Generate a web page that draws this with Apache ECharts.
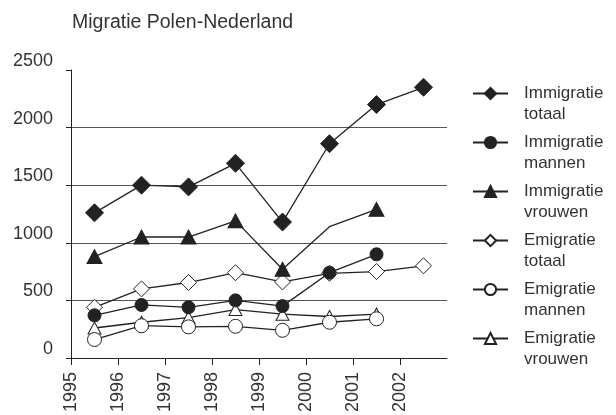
<!DOCTYPE html>
<html>
<head>
<meta charset="utf-8">
<script src="https://cdn.jsdelivr.net/npm/echarts@6/dist/echarts.min.js"></script>
<style>html,body{margin:0;padding:0;background:#fff}#c{width:616px;height:415px}</style>
</head>
<body>
<div id="c"></div>
<script>
const years = ['1995','1996','1997','1998','1999','2000','2001','2002'];
const yTicks = [0, 500, 1000, 1500, 2000, 2500];
const immigTotaal  = [1260, 1500, 1485, 1690, 1180, 1860, 2200, 2350];
const immigMannen  = [370, 460, 440, 500, 450, 740, 900];
const immigVrouwen = [880, 1050, 1050, 1190, 770, 1140, 1290];
const emigTotaal   = [440, 600, 655, 740, 660, 735, 750, 800];
const emigMannen   = [160, 280, 270, 275, 240, 310, 340];
const emigVrouwen  = [260, 310, 350, 420, 380, 360, 380];
const hiddenMarkers = {immigVrouwen: [5]};

const FONT = 'Liberation Sans';
const INK = '#222';
const TXT = '#333';

function pts(arr, hide) {
  return arr.map((v, i) => {
    const item = {value: [i + 0.5, v]};
    if (hide && hide.indexOf(i) >= 0) item.symbol = 'none';
    return item;
  });
}
function mk(name, arr, symbol, size, filled, z, hide) {
  return {
    name, type: 'line', data: pts(arr, hide), z,
    symbol, symbolSize: size, showSymbol: true,
    lineStyle: {color: INK, width: 1.3},
    itemStyle: {color: filled ? INK : '#fff', borderColor: INK, borderWidth: 1},
    animation: false
  };
}

const chart = echarts.init(document.getElementById('c'), null, {renderer: 'canvas'});
chart.setOption({
  animation: false,
  title: {
    text: 'Migratie Polen-Nederland', left: 67, top: 8,
    textStyle: {fontFamily: FONT, fontSize: 19.5, fontWeight: 'normal', color: TXT}
  },
  grid: {left: 71, right: 169, top: 70, bottom: 57},
  xAxis: {
    type: 'value', min: 0, max: years.length,
    axisLine: {show: true, lineStyle: {color: INK, width: 1}},
    axisTick: {show: true, length: 7, lineStyle: {color: INK}, customValues: years.map((y, i) => i)},
    axisLabel: {
      customValues: years.map((y, i) => i),
      formatter: v => years[v], rotate: 90, margin: 14,
      fontFamily: FONT, fontSize: 18, color: TXT
    },
    splitLine: {show: false}
  },
  yAxis: {
    type: 'value', min: 0, max: 2500, interval: 500,
    axisLine: {show: true, lineStyle: {color: INK, width: 1}},
    axisTick: {show: true, length: 5, lineStyle: {color: INK}},
    axisLabel: {margin: 18, verticalAlign: 'bottom', fontFamily: FONT, fontSize: 18, color: TXT,
      formatter: v => String(v)},
    splitLine: {show: true, lineStyle: {color: yTicks.map(v => v === 2500 ? 'rgba(0,0,0,0)' : '#555'), width: 1}}
  },
  legend: {
    orient: 'vertical', left: 467, top: 57, itemGap: -14, padding: 5,
    itemWidth: 35, itemHeight: 14,
    textStyle: {fontFamily: FONT, fontSize: 17, color: TXT, lineHeight: 21, padding: [0, 0, 0, 11]},
    formatter: n => '\n' + n.replace(' ', '\n'),
    selectedMode: false
  },
  series: [
    mk('Immigratie totaal', immigTotaal, 'diamond', [18, 18], true, 10),
    mk('Immigratie mannen', immigMannen, 'circle', 13, true, 9),
    mk('Immigratie vrouwen', immigVrouwen, 'triangle', [15, 14], true, 8, hiddenMarkers.immigVrouwen),
    mk('Emigratie totaal', emigTotaal, 'diamond', [16, 16], false, 7),
    mk('Emigratie mannen', emigMannen, 'circle', 14, false, 6),
    mk('Emigratie vrouwen', emigVrouwen, 'triangle', [13, 12], false, 5)
  ]
});
</script>
</body>
</html>
